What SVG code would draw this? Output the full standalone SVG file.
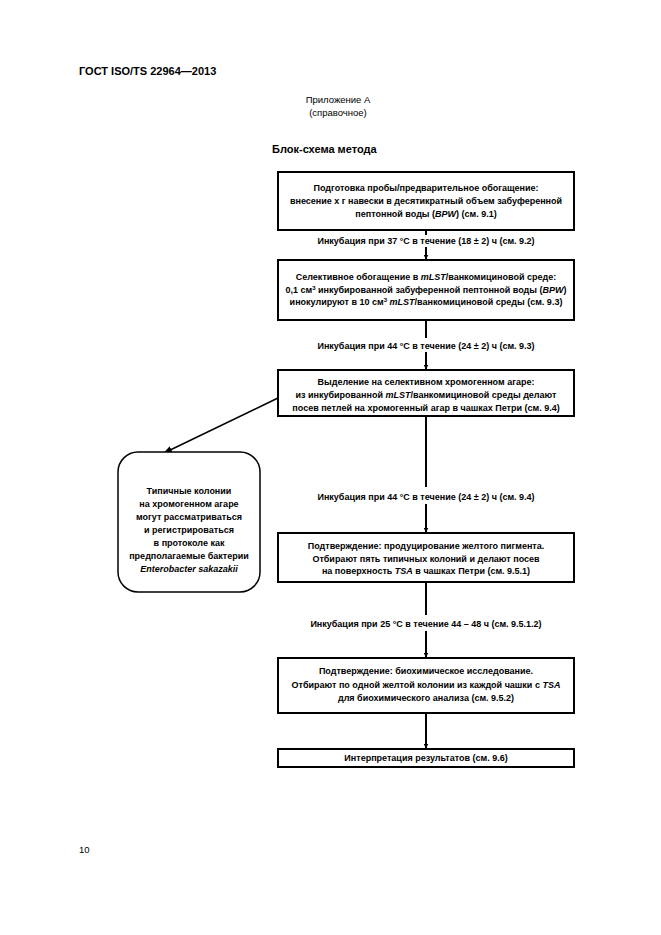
<svg xmlns="http://www.w3.org/2000/svg" width="661" height="935" viewBox="0 0 661 935">
<defs>
<marker id="ah" viewBox="0 0 10 10" refX="9" refY="5" markerWidth="5" markerHeight="5" orient="auto" markerUnits="userSpaceOnUse">
<path d="M0,0 L10,5 L0,10 z" fill="#000"/>
</marker>
<marker id="ah2" viewBox="0 0 10 10" refX="9" refY="5" markerWidth="9" markerHeight="9" orient="auto" markerUnits="userSpaceOnUse">
<path d="M0,1 L10,5 L0,9 z" fill="#000"/>
</marker>
</defs>
<style>
text{font-family:"Liberation Sans",Arial,sans-serif;fill:#000}
.hd{font-size:11px;font-weight:bold}
.ap{font-size:9.5px}
.ti{font-size:11px;font-weight:bold}
.bx{font-size:9px;font-weight:bold;text-anchor:middle}
.lb{font-size:9px;font-weight:bold;text-anchor:middle}
.box{fill:#fff;stroke:#000;stroke-width:2}
.side{fill:#fff;stroke:#000;stroke-width:1.5}
.ln{stroke:#000;stroke-width:2;fill:none}
.it{font-style:italic}
</style>
<rect width="661" height="935" fill="#fff"/>
<text class="hd" x="79" y="75">ГОСТ ISO/TS 22964—2013</text>
<text class="ap" x="338" y="103" text-anchor="middle">Приложение А</text>
<text class="ap" x="338" y="116" text-anchor="middle">(справочное)</text>
<text class="ti" x="272" y="153">Блок-схема метода</text>

<g id="connectors">
<line class="ln" x1="426" y1="230" x2="426" y2="235"/>
<line class="ln" x1="426" y1="247" x2="426" y2="259" marker-end="url(#ah)"/>
<line class="ln" x1="426" y1="321" x2="426" y2="338"/>
<line class="ln" x1="426" y1="352" x2="426" y2="369" marker-end="url(#ah)"/>
<line class="ln" x1="426" y1="417" x2="426" y2="487"/>
<line class="ln" x1="426" y1="504" x2="426" y2="532" marker-end="url(#ah)"/>
<line class="ln" x1="426" y1="583" x2="426" y2="615"/>
<line class="ln" x1="426" y1="631" x2="426" y2="657" marker-end="url(#ah)"/>
<line class="ln" x1="426" y1="714" x2="426" y2="748" marker-end="url(#ah)"/>
<line x1="280" y1="397" x2="164" y2="453" stroke="#000" stroke-width="1.5" marker-end="url(#ah2)"/>
<text class="lb" x="426" y="244">Инкубация при 37 °С в течение (18 ± 2) ч (см. 9.2)</text>
<text class="lb" x="426" y="349">Инкубация при 44 °С в течение (24 ± 2) ч (см. 9.3)</text>
<text class="lb" x="426" y="500">Инкубация при 44 °С в течение (24 ± 2) ч (см. 9.4)</text>
<text class="lb" x="426" y="627">Инкубация при 25 °С в течение 44 – 48 ч (см. 9.5.1.2)</text>
</g>

<g id="n1">
<rect class="box" x="278" y="172" width="296" height="58"/>
<text class="bx" x="426" y="191">Подготовка пробы/предварительное обогащение:</text>
<text class="bx" x="426" y="204">внесение x г навески в десятикратный объем забуференной</text>
<text class="bx" x="426" y="217">пептонной воды (<tspan class="it">BPW</tspan>) (см. 9.1)</text>
</g>

<g id="n2">
<rect class="box" x="278" y="260" width="296" height="60"/>
<text class="bx" x="426" y="280">Селективное обогащение в <tspan class="it">mLST</tspan>/ванкомициновой среде:</text>
<text class="bx" x="426" y="293">0,1 см<tspan font-size="6" dy="-3">3</tspan><tspan dy="3"> инкубированной забуференной пептонной воды (</tspan><tspan class="it">BPW</tspan>)</text>
<text class="bx" x="426" y="305">инокулируют в 10 см<tspan font-size="6" dy="-3">3</tspan><tspan dy="3"> </tspan><tspan class="it">mLST</tspan>/ванкомициновой среды (см. 9.3)</text>
</g>

<g id="n3">
<rect class="box" x="278" y="370" width="296" height="46"/>
<text class="bx" x="426" y="385">Выделение на селективном хромогенном агаре:</text>
<text class="bx" x="426" y="398">из инкубированной <tspan class="it">mLST</tspan>/ванкомициновой среды делают</text>
<text class="bx" x="426" y="411">посев петлей на хромогенный агар в чашках Петри (см. 9.4)</text>
</g>

<g id="n_side">
<rect class="side" x="118" y="452" width="142" height="140" rx="20" ry="20"/>
<text class="bx" x="189" y="494">Типичные колонии</text>
<text class="bx" x="189" y="507">на хромогенном агаре</text>
<text class="bx" x="189" y="520">могут рассматриваться</text>
<text class="bx" x="189" y="533">и регистрироваться</text>
<text class="bx" x="189" y="546">в протоколе как</text>
<text class="bx" x="189" y="559">предполагаемые бактерии</text>
<text class="bx it" x="189" y="572">Enterobacter sakazakii</text>
</g>

<g id="n4">
<rect class="box" x="278" y="533" width="296" height="49"/>
<text class="bx" x="426" y="549">Подтверждение: продуцирование желтого пигмента.</text>
<text class="bx" x="426" y="562">Отбирают пять типичных колоний и делают посев</text>
<text class="bx" x="426" y="574">на поверхность <tspan class="it">TSA</tspan> в чашках Петри (см. 9.5.1)</text>
</g>

<g id="n5">
<rect class="box" x="278" y="658" width="296" height="55"/>
<text class="bx" x="426" y="674">Подтверждение: биохимическое исследование.</text>
<text class="bx" x="426" y="688">Отбирают по одной желтой колонии из каждой чашки с <tspan class="it">TSA</tspan></text>
<text class="bx" x="426" y="701">для биохимического анализа (см. 9.5.2)</text>
</g>

<g id="n6">
<rect class="box" x="278" y="749" width="296" height="18"/>
<text class="bx" x="426" y="761">Интерпретация результатов (см. 9.6)</text>
</g>

<text class="ap" x="79" y="853">10</text>
</svg>
